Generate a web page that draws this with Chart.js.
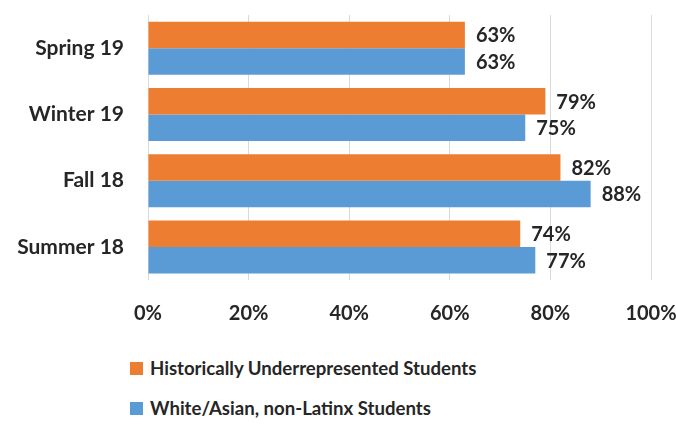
<!DOCTYPE html>
<html>
<head>
<meta charset="utf-8">
<script src="https://cdn.jsdelivr.net/npm/chart.js@4"></script>
<style>
  html, body { margin: 0; padding: 0; background: #fff; }
  body { width: 676px; height: 424px; overflow: hidden; font-family: Lato, "Open Sans", sans-serif; }
  #wrap { position: relative; width: 676px; height: 335px; }
  #legend { position: relative; height: 89px; }
  .leg-item { position: absolute; left: 130px; display: flex; align-items: center; font-weight: bold; font-size: 18.6px; color: #262626; }
  .leg-box { width: 13px; height: 13px; margin-right: 7px; }
</style>
</head>
<body>
<div id="wrap"><canvas id="chart"></canvas></div>
<div id="legend"></div>
<script>
// Data
const categories = ['Spring 19', 'Winter 19', 'Fall 18', 'Summer 18'];
const underrepresented = [63, 79, 82, 74];
const whiteAsian = [63, 75, 88, 77];
const seriesNames = ['Historically Underrepresented Students', 'White/Asian, non-Latinx Students'];
const xTicks = [0, 20, 40, 60, 80, 100];

const ORANGE = '#ED7D31';
const BLUE = '#5B9BD5';
const TEXT = '#262626';

// value labels at the end of each bar
const valueLabels = {
  id: 'valueLabels',
  afterDatasetsDraw(chart) {
    const ctx = chart.ctx;
    ctx.save();
    ctx.font = 'bold 20px Lato, "Open Sans", sans-serif';
    ctx.fillStyle = TEXT;
    ctx.textAlign = 'left';
    ctx.textBaseline = 'middle';
    chart.data.datasets.forEach((ds, i) => {
      chart.getDatasetMeta(i).data.forEach((bar, j) => {
        ctx.fillText(ds.data[j] + '%', bar.x + 11, bar.y + 1);
      });
    });
    ctx.restore();
  }
};

new Chart(document.getElementById('chart'), {
  type: 'bar',
  data: {
    labels: categories,
    datasets: [
      { label: seriesNames[0], data: underrepresented, backgroundColor: ORANGE },
      { label: seriesNames[1], data: whiteAsian, backgroundColor: BLUE }
    ]
  },
  options: {
    indexAxis: 'y',
    responsive: true,
    maintainAspectRatio: false,
    animation: false,
    layout: { padding: 0 },
    categoryPercentage: 0.8,
    barPercentage: 1,
    plugins: {
      legend: { display: false },
      tooltip: { enabled: false }
    },
    scales: {
      x: {
        min: 0,
        max: 100,
        afterBuildTicks: (s) => { s.ticks = xTicks.map(v => ({ value: v })); },
        afterFit: (s) => {
          s.height = 55;
          s.paddingLeft = 0;
          s.paddingRight = 25;
        },
        grid: { color: '#D9D9D9', drawTicks: false },
        border: { display: false },
        ticks: {
          padding: 22,
          maxRotation: 0,
          color: TEXT,
          font: { family: 'Lato', size: 20, weight: 'bold' },
          callback: (v) => v + '%'
        }
      },
      y: {
        afterFit: (s) => {
          s.width = 148;
          s.paddingTop = 15;
          s.paddingBottom = 0;
        },
        grid: { display: false },
        border: { display: false },
        ticks: {
          padding: 16,
          color: TEXT,
          font: { family: 'Lato', size: 21, weight: 'bold' }
        }
      }
    }
  },
  plugins: [valueLabels]
});

// legend, one series per row
const legend = document.getElementById('legend');
[ORANGE, BLUE].forEach((c, i) => {
  const item = document.createElement('div');
  item.className = 'leg-item';
  item.style.top = (22 + i * 40) + 'px';
  item.innerHTML = '<span class="leg-box" style="background:' + c + '"></span><span>' + seriesNames[i] + '</span>';
  legend.appendChild(item);
});
</script>
</body>
</html>
